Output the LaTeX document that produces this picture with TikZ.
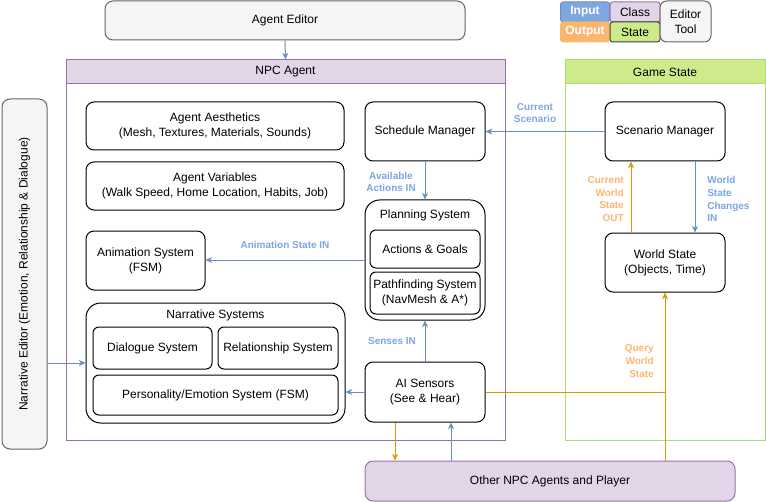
\documentclass[tikz,border=0pt]{standalone}
\usepackage{fontspec}
\setmainfont{Liberation Sans}
\usetikzlibrary{arrows.meta,calc}
\definecolor{pfill}{HTML}{E1D5E7}
\definecolor{pline}{HTML}{9673A6}
\definecolor{gfill}{HTML}{CDEB8B}
\definecolor{gline}{HTML}{A6E36B}
\definecolor{bline}{HTML}{6C8EBF}
\definecolor{btext}{HTML}{7EA6E0}
\definecolor{oline}{HTML}{D79B00}
\definecolor{otext}{HTML}{FFB570}
\definecolor{efill}{HTML}{F5F5F5}
\definecolor{eline}{HTML}{666666}
\newcommand\mainf{\fontsize{9}{11.25}\selectfont}
\newcommand\labf{\fontsize{7.5}{9.6}\selectfont\bfseries}
\begin{document}
\begin{tikzpicture}[x=0.75pt,y=-0.75pt,
  sz/.style 2 args={minimum width=#1*0.75pt, minimum height=#2*0.75pt},
  box/.style={draw=black, rounded corners=6pt, fill=white, inner sep=0pt, align=center, font=\mainf, line width=0.75pt},
  bigbox/.style={box, rounded corners=11pt},
  smallbox/.style={box, rounded corners=4.5pt},
  edbox/.style={box, draw=eline, fill=efill},
  plain/.style={inner sep=0pt, align=center, font=\mainf},
  legbox/.style={draw, rounded corners=2pt, inner sep=0pt, align=center, font=\mainf, line width=0.75pt},
  blab/.style={inner sep=0pt, font=\labf, text=btext, align=center},
  olab/.style={inner sep=0pt, font=\labf, text=otext},
  barrow/.style={draw=bline, line width=0.75pt, -{Stealth[length=5pt,width=4.5pt,inset=1.5pt]}},
  oarrow/.style={draw=oline, line width=0.75pt, -{Stealth[length=5pt,width=4.5pt,inset=1.5pt]}},
  oline/.style={draw=oline, line width=0.75pt},
]
\useasboundingbox (0,0) rectangle (766,502);

% containers
\node[draw=pline, fill=white, line width=0.75pt, sz={439}{356}, inner sep=0pt] (npcbody) at (285.5,262) {};
\node[draw=pline, fill=pfill, line width=0.75pt, sz={439}{24}, inner sep=0pt, font=\mainf] (npchead) at (285.5,72) {NPC Agent};
\node[draw=gline, fill=white, line width=0.75pt, sz={200}{356}, inner sep=0pt] (gsbody) at (665,262) {};
\node[draw=gline, fill=gfill, line width=0.75pt, sz={200}{24}, inner sep=0pt, font=\mainf] (gshead) at (665,72) {Game State};

% editors
\node[edbox, sz={360}{39}] (ae) at (285,20.5) {Agent Editor};
\node[edbox, sz={350}{45}, rotate=90] (ned) at (24.5,274) {Narrative Editor (Emotion, Relationship \& Dialogue)};

% legend
\node[legbox, draw=bline, fill=btext, text=white, font=\mainf\bfseries, sz={49}{20}] (lin) at (585,12) {Input};
\node[legbox, draw=oline!60, fill=otext, text=white, font=\mainf\bfseries, sz={49}{20}] (lout) at (585,32) {Output};
\node[legbox, draw=pline, fill=pfill, sz={50}{20}] (lcl) at (635,12) {Class};
\node[legbox, draw=black!75, fill=gfill, sz={50}{20}] (lst) at (635,32) {State};
\node[legbox, draw=eline, fill=efill, rounded corners=5pt, sz={51}{41}] (led) at (685.5,21.5) {Editor\\Tool};

% NPC agent contents
\node[box, sz={258}{48}] (aes) at (215,126) {Agent Aesthetics\\(Mesh, Textures, Materials, Sounds)};
\node[box, sz={258}{48}] (avar) at (215,186) {Agent Variables\\(Walk Speed, Home Location, Habits, Job)};
\node[box, sz={119}{59}] (anim) at (145.5,260.5) {Animation System\\(FSM)};
\node[bigbox, sz={259}{120}] (ns) at (215.5,363) {};
\node[plain] (nstitle) at (215.5,315) {Narrative Systems};
\node[smallbox, sz={119}{42}] (dlg) at (152.5,348) {Dialogue System};
\node[smallbox, sz={120}{42}] (rel) at (278,348) {Relationship System};
\node[smallbox, sz={245}{40}] (pers) at (215.5,395) {Personality/Emotion System (FSM)};
\node[box, sz={120}{59}] (sched) at (425,131.5) {Schedule Manager};
\node[bigbox, sz={120}{120}] (plan) at (425,260) {};
\node[plain] (plantitle) at (425,215) {Planning System};
\node[smallbox, sz={110}{38}] (act) at (425,249) {Actions \& Goals};
\node[smallbox, sz={110}{42}] (path) at (425,293) {Pathfinding System\\(NavMesh \& A*)};
\node[box, sz={120}{60}] (ais) at (425,392) {AI Sensors\\(See \& Hear)};

% game state contents
\node[box, sz={120}{59}] (scen) at (665,131.5) {Scenario Manager};
\node[box, sz={120}{59}] (ws) at (665,262.5) {World State\\(Objects, Time)};

% other agents
\node[box, draw=pline, fill=pfill, sz={370}{40}] (other) at (550,481) {Other NPC Agents and Player};

% connectors
\draw[barrow] (ae.south) -- (npchead.north);
\draw[barrow] (ned.south |- ns.west) -- (ns.west);
\draw[barrow] (scen.west) -- (sched.east);
\draw[barrow] (sched.south) -- (plan.north);
\draw[barrow] (plan.west) -- (plan.west -| anim.east);
\draw[barrow] (ais.north) -- (plan.south);
\draw[barrow] (ais.west) -- (ais.west -| ns.east);
\draw[barrow] ([xshift=22.5pt]scen.south) -- ([xshift=22.5pt]ws.north);
\draw[oarrow] ([xshift=-25.5pt]ws.north) -- ([xshift=-25.5pt]scen.south);
\draw[oarrow] ([xshift=86.25pt]other.north) -- (ws.south);
\draw[oline] (ais.east) -- (ais.east -| ws.south);
\draw[oarrow] ([xshift=-22.5pt]ais.south) -- ([xshift=-22.5pt]ais.south |- other.north);
\draw[barrow] ([xshift=19.5pt]ais.south |- other.north) -- ([xshift=19.5pt]ais.south);

% labels
\node[blab] (lcs) at (535,113) {Current\\Scenario};
\node[blab] (laa) at (391,182) {Available\\Actions IN};
\node[blab] (las) at (285,245) {Animation State IN};
\node[blab] (lsi) at (392,341) {Senses IN};
\node[blab, anchor=west, align=left] (lwc) at (707,199) {World\\State\\Changes\\IN};
\node[olab, anchor=east, align=right] (lcw) at (624,199) {Current\\World\\State\\OUT};
\node[olab, anchor=east, align=right] (lq) at (654,361) {Query\\World\\State};
\end{tikzpicture}
\end{document}
